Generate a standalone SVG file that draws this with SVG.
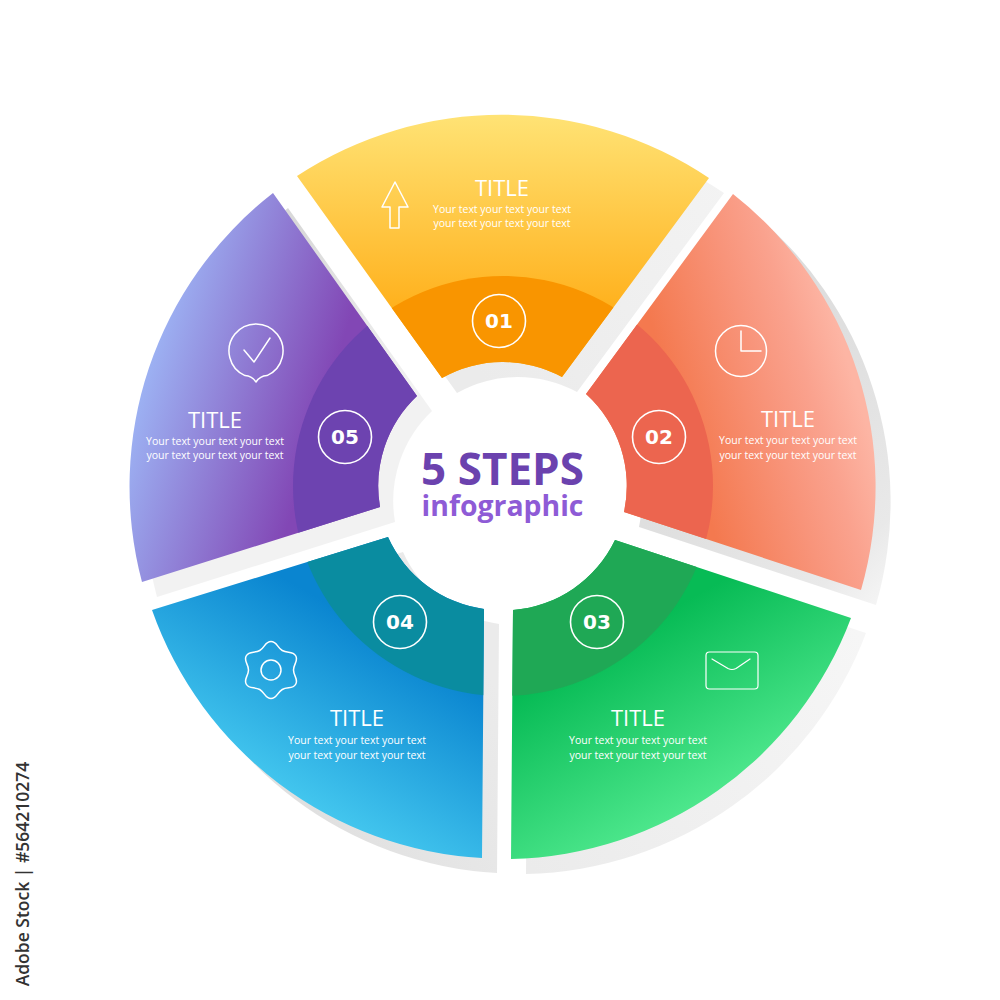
<svg xmlns="http://www.w3.org/2000/svg" width="1000" height="1000" viewBox="0 0 1000 1000">
<style>
text{font-family:"Open Sans","Noto Sans","Liberation Sans",sans-serif;fill:#fff;text-anchor:middle}
.title{font-size:22px}
.sub{font-size:10.500px}
.num{font-family:"DejaVu Sans",sans-serif;font-weight:700;font-size:20px}
.ring{fill:none;stroke:#fff;stroke-width:1.6}
.ico{fill:none;stroke:#fff;stroke-width:1.5;stroke-linejoin:round;stroke-linecap:round}
</style>
<defs>
<path id="p1" d="M297,176 A372,372 0 0 1 709,178 L562,377 A124,124 0 0 0 442,378 Z"/>
<path id="p2" d="M733,194 A372,372 0 0 1 861,590 L624,512 A124,124 0 0 0 586,394 Z"/>
<path id="p3" d="M851,618 A372,372 0 0 1 511,859 L513,610 A124,124 0 0 0 615,540 Z"/>
<path id="p4" d="M482,858 A372,372 0 0 1 152,610 L388,537 A124,124 0 0 0 484,609 Z"/>
<path id="p5" d="M142,582 A372,372 0 0 1 273,193 L417,396 A124,124 0 0 0 380,507 Z"/>
<clipPath id="c1"><use href="#p1"/></clipPath>
<clipPath id="c2"><use href="#p2"/></clipPath>
<clipPath id="c3"><use href="#p3"/></clipPath>
<clipPath id="c4"><use href="#p4"/></clipPath>
<clipPath id="c5"><use href="#p5"/></clipPath>
<linearGradient id="g1" gradientUnits="userSpaceOnUse" x1="503" y1="114" x2="503" y2="320"><stop offset="0" stop-color="#ffe375"/><stop offset="1" stop-color="#ffae18"/></linearGradient>
<linearGradient id="g2" gradientUnits="userSpaceOnUse" x1="700" y1="486" x2="870" y2="435"><stop offset="0" stop-color="#f4794f"/><stop offset="0.5" stop-color="#f8947a"/><stop offset="0.75" stop-color="#faa28e"/><stop offset="1" stop-color="#fdb5a4"/></linearGradient>
<linearGradient id="g3" gradientUnits="userSpaceOnUse" x1="600" y1="650" x2="697" y2="820"><stop offset="0" stop-color="#07bb55"/><stop offset="1" stop-color="#52ea90"/></linearGradient>
<linearGradient id="g4" gradientUnits="userSpaceOnUse" x1="410" y1="650" x2="313" y2="820"><stop offset="0" stop-color="#0a85d0"/><stop offset="1" stop-color="#46caf0"/></linearGradient>
<linearGradient id="g5" gradientUnits="userSpaceOnUse" x1="300" y1="486" x2="130" y2="435"><stop offset="0" stop-color="#8247b5"/><stop offset="1" stop-color="#9cb0f2"/></linearGradient>
<linearGradient id="s1" gradientUnits="userSpaceOnUse" x1="480" y1="380" x2="730" y2="190"><stop offset="0" stop-color="#ebebeb"/><stop offset="1" stop-color="#f3f3f3"/></linearGradient>
<linearGradient id="s2" gradientUnits="userSpaceOnUse" x1="700" y1="290" x2="942" y2="532"><stop offset="0" stop-color="#dcdcdc"/><stop offset="0.4" stop-color="#e0e0e0"/><stop offset="0.8" stop-color="#e9e9e9"/><stop offset="1" stop-color="#f8f8f8"/></linearGradient>
<linearGradient id="s3" gradientUnits="userSpaceOnUse" x1="530" y1="875" x2="860" y2="640"><stop offset="0" stop-color="#ebebeb"/><stop offset="1" stop-color="#f6f6f6"/></linearGradient>
<linearGradient id="s4" gradientUnits="userSpaceOnUse" x1="300" y1="800" x2="495" y2="700"><stop offset="0" stop-color="#e0e0e0"/><stop offset="1" stop-color="#ebebeb"/></linearGradient>
<linearGradient id="s5" gradientUnits="userSpaceOnUse" x1="290" y1="210" x2="400" y2="370"><stop offset="0" stop-color="#d9d9d9"/><stop offset="1" stop-color="#f2f2f2"/></linearGradient>
</defs>
<g id="shadows">
<use href="#p1" x="15" y="15" fill="url(#s1)"/>
<use href="#p2" x="15" y="15" fill="url(#s2)"/>
<use href="#p3" x="15" y="15" fill="url(#s3)"/>
<use href="#p4" x="15" y="15" fill="url(#s4)"/>
<use href="#p5" x="15" y="15" fill="url(#s5)"/>
</g>
<g id="step1">
<use href="#p1" fill="url(#g1)"/>
<circle cx="503" cy="486" r="210" fill="#f99500" clip-path="url(#c1)"/>
<path class="ico" d="M395,182 L408,207 L399,207 L399,228 L390,228 L390,207 L382,207 Z"/>
<text class="title" x="502" y="196">TITLE</text>
<text class="sub" x="502" y="212.500">Your text your text your text</text>
<text class="sub" x="502" y="227">your text your text your text</text>
<circle class="ring" cx="499" cy="321" r="26.500"/>
<text class="num" x="499" y="328">01</text>
</g>
<g id="step2">
<use href="#p2" fill="url(#g2)"/>
<circle cx="503" cy="486" r="210" fill="#ec654f" clip-path="url(#c2)"/>
<circle class="ico" cx="741" cy="351" r="25.500"/>
<path class="ico" d="M741,331 L741,351 L761,351"/>
<text class="title" x="788" y="427">TITLE</text>
<text class="sub" x="788" y="444">Your text your text your text</text>
<text class="sub" x="788" y="458.500">your text your text your text</text>
<circle class="ring" cx="659" cy="437" r="26.500"/>
<text class="num" x="659" y="444">02</text>
</g>
<g id="step3">
<use href="#p3" fill="url(#g3)"/>
<circle cx="503" cy="486" r="210" fill="#1fa855" clip-path="url(#c3)"/>
<rect class="ico" x="706" y="652" width="52" height="37" rx="3.500" style="stroke-width:1.2"/>
<path class="ico" d="M712,659 L728,668.500 Q732,670.500 736,668.500 L750,659" style="stroke-width:1.2"/>
<text class="title" x="638" y="726">TITLE</text>
<text class="sub" x="638" y="744">Your text your text your text</text>
<text class="sub" x="638" y="758.500">your text your text your text</text>
<circle class="ring" cx="597" cy="622" r="26.500"/>
<text class="num" x="597" y="629">03</text>
</g>
<g id="step4">
<use href="#p4" fill="url(#g4)"/>
<circle cx="503" cy="486" r="210" fill="#0a8ca0" clip-path="url(#c4)"/>
<path class="ico" transform="translate(271,670)" d="M0,-28.500 C6,-28.500 6.050,-22.490 11.250,-19.490 S21.680,-19.450 24.680,-14.250 S22.500,-6 22.500,0 S27.680,9.050 24.680,14.250 S16.450,16.490 11.250,19.490 S6,28.500 0,28.500 S-6.050,22.490 -11.250,19.490 S-21.680,19.450 -24.680,14.250 S-22.500,6 -22.500,0 S-27.680,-9.050 -24.680,-14.250 S-16.450,-16.490 -11.250,-19.490 S-6,-28.500 0,-28.500 Z"/>
<circle class="ico" cx="271" cy="670" r="10"/>
<text class="title" x="357" y="726">TITLE</text>
<text class="sub" x="357" y="744">Your text your text your text</text>
<text class="sub" x="357" y="758.500">your text your text your text</text>
<circle class="ring" cx="400" cy="622" r="26.500"/>
<text class="num" x="400" y="629">04</text>
</g>
<g id="step5">
<use href="#p5" fill="url(#g5)"/>
<circle cx="503" cy="486" r="210" fill="#6d43b0" clip-path="url(#c5)"/>
<path class="ico" d="M256,382 Q252,376 245,375.600 A27,27 0 1 1 267,375.600 Q260,376 256,382 Z"/>
<path class="ico" d="M244,350 L254,362 L270,338"/>
<text class="title" x="215" y="428">TITLE</text>
<text class="sub" x="215" y="444.500">Your text your text your text</text>
<text class="sub" x="215" y="459">your text your text your text</text>
<circle class="ring" cx="345" cy="437" r="26.500"/>
<text class="num" x="345" y="444">05</text>
</g>
<g id="center">
<text x="502.500" y="485" style="font-size:44px;font-weight:700;fill:#6b42ae">5 STEPS</text>
<text x="502.500" y="516" style="font-size:28.400px;font-weight:700;fill:#8e5bd6">infographic</text>
</g>
<text transform="translate(29,874) rotate(-90)" style="font-size:17.500px;font-weight:600;fill:#333">Adobe Stock | #564210274</text>
<g id="connectors"/>
</svg>
